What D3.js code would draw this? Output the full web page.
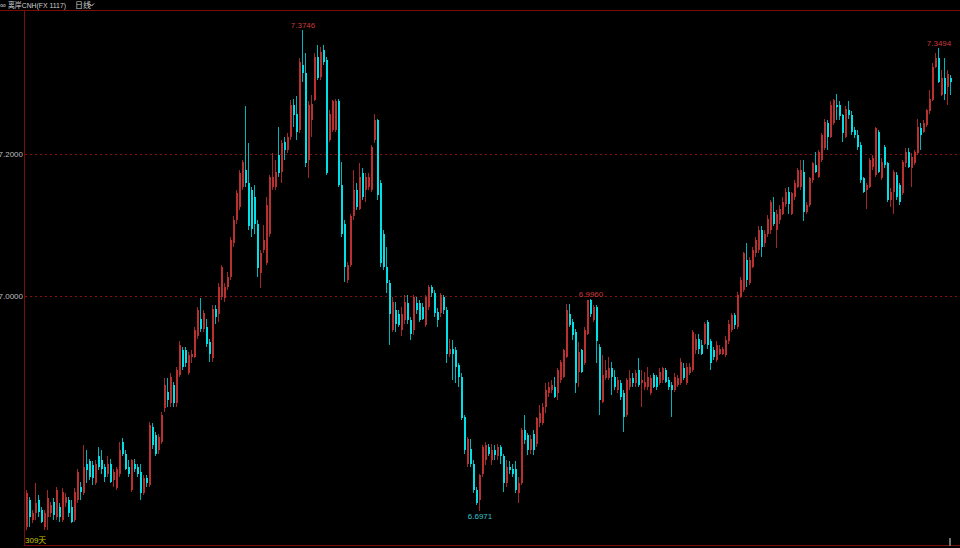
<!DOCTYPE html>
<html><head><meta charset="utf-8">
<script src="https://cdn.jsdelivr.net/npm/d3@7"></script>
<style>html,body{margin:0;padding:0;background:#000;overflow:hidden}</style>
</head><body><svg id="c" width="960" height="548"></svg>
<script>
// Daily candles, 309 days (open / high / low / close)
const openP = [
6.675,6.713,6.685,6.694,6.713,6.699,6.675,6.689,6.694,6.710,
6.689,6.703,6.685,6.708,6.713,6.703,6.685,6.713,6.731,6.722,
6.764,6.767,6.762,6.736,6.774,6.769,6.759,6.750,6.764,6.741,
6.729,6.750,6.795,6.778,6.759,6.727,6.764,6.759,6.752,6.722,
6.743,6.734,6.816,6.804,6.783,6.795,6.842,6.865,6.849,6.875,
6.849,6.889,6.924,6.924,6.891,6.914,6.914,6.943,6.968,6.954,
6.957,6.935,6.912,6.982,6.975,6.999,6.997,7.013,7.027,7.074,
7.107,7.126,7.154,7.177,7.159,7.149,7.140,7.102,7.032,7.065,
7.046,7.088,7.154,7.154,7.199,7.175,7.217,7.206,7.224,7.269,
7.257,7.234,7.325,7.314,7.192,7.248,7.276,7.337,7.309,7.346,
7.332,7.220,7.234,7.234,7.274,7.156,7.102,7.022,7.044,7.112,
7.149,7.123,7.173,7.149,7.154,7.149,7.220,7.248,7.159,7.088,
7.041,7.018,6.952,6.980,6.975,6.952,6.966,6.990,6.966,6.952,
6.990,6.990,6.985,6.959,6.985,7.013,7.004,6.978,6.976,6.999,
6.980,6.919,6.926,6.924,6.903,6.886,6.830,6.764,6.785,6.764,
6.727,6.713,6.750,6.769,6.788,6.769,6.783,6.774,6.788,6.774,
6.736,6.759,6.757,6.757,6.722,6.736,6.811,6.804,6.783,6.806,
6.792,6.821,6.821,6.844,6.863,6.868,6.872,6.863,6.881,6.886,
6.914,6.975,6.964,6.950,6.893,6.924,6.905,6.947,6.994,6.966,
6.985,6.928,6.851,6.884,6.884,6.898,6.886,6.868,6.877,6.863,
6.832,6.872,6.884,6.877,6.896,6.877,6.872,6.872,6.863,6.889,
6.886,6.877,6.881,6.896,6.882,6.875,6.868,6.875,6.877,6.898,
6.877,6.891,6.896,6.924,6.940,6.931,6.933,6.964,6.936,6.924,
6.910,6.919,6.919,6.917,6.936,6.952,6.973,6.957,6.999,7.008,
7.051,7.018,7.041,7.060,7.065,7.093,7.074,7.088,7.093,7.119,
7.093,7.107,7.116,7.130,7.147,7.116,7.140,7.154,7.154,7.175,
7.119,7.128,7.163,7.184,7.168,7.192,7.208,7.243,7.224,7.243,
7.269,7.269,7.255,7.224,7.262,7.255,7.234,7.227,7.213,7.166,
7.149,7.154,7.182,7.170,7.231,7.166,7.210,7.187,7.135,7.147,
7.170,7.156,7.145,7.187,7.203,7.180,7.187,7.201,7.236,7.231,
7.241,7.260,7.276,7.323,7.335,7.283,7.307,7.295,7.307];

const highP = [
6.727,6.717,6.699,6.736,6.720,6.703,6.699,6.727,6.710,6.715,
6.731,6.708,6.729,6.722,6.717,6.713,6.729,6.757,6.738,6.790,
6.783,6.771,6.767,6.769,6.788,6.783,6.764,6.774,6.771,6.757,
6.759,6.795,6.800,6.783,6.769,6.771,6.771,6.764,6.764,6.748,
6.748,6.823,6.821,6.809,6.806,6.837,6.884,6.884,6.891,6.879,
6.900,6.936,6.928,6.928,6.921,6.924,6.957,6.985,6.997,6.980,
6.968,6.940,6.987,6.987,7.018,7.044,7.018,7.034,7.083,7.112,
7.149,7.177,7.191,7.267,7.215,7.154,7.156,7.107,7.065,7.100,
7.140,7.170,7.201,7.191,7.238,7.220,7.224,7.229,7.276,7.278,
7.281,7.335,7.3746,7.342,7.274,7.283,7.342,7.353,7.351,7.353,
7.337,7.262,7.276,7.278,7.278,7.189,7.107,7.048,7.116,7.177,
7.159,7.187,7.180,7.173,7.173,7.213,7.257,7.250,7.163,7.093,
7.069,7.022,6.999,6.992,6.980,6.985,7.001,7.001,6.971,7.001,
6.999,6.994,6.990,7.001,7.015,7.015,7.008,6.983,7.004,7.001,
6.985,6.940,6.938,6.928,6.905,6.891,6.832,6.802,6.799,6.769,
6.731,6.750,6.790,6.795,6.792,6.792,6.790,6.792,6.790,6.778,
6.769,6.767,6.764,6.767,6.745,6.814,6.832,6.807,6.804,6.811,
6.830,6.846,6.849,6.877,6.879,6.882,6.886,6.898,6.910,6.926,
6.989,6.989,6.968,6.954,6.935,6.926,6.957,6.994,6.996,6.987,
6.987,6.933,6.917,6.910,6.914,6.907,6.896,6.886,6.882,6.867,
6.884,6.896,6.891,6.896,6.912,6.896,6.893,6.900,6.889,6.891,
6.889,6.898,6.900,6.898,6.886,6.879,6.891,6.889,6.912,6.905,
6.905,6.905,6.952,6.947,6.947,6.938,6.964,6.966,6.940,6.928,
6.936,6.931,6.928,6.943,6.966,6.976,6.976,7.006,7.027,7.062,
7.074,7.055,7.069,7.083,7.098,7.098,7.093,7.114,7.135,7.140,
7.121,7.128,7.140,7.152,7.154,7.147,7.163,7.180,7.191,7.191,
7.133,7.168,7.189,7.203,7.206,7.229,7.250,7.248,7.274,7.278,
7.285,7.274,7.257,7.267,7.274,7.260,7.238,7.234,7.217,7.168,
7.159,7.194,7.199,7.238,7.234,7.194,7.213,7.189,7.152,7.177,
7.175,7.159,7.191,7.208,7.208,7.201,7.206,7.250,7.243,7.248,
7.264,7.290,7.328,7.342,7.3494,7.318,7.335,7.318,7.311];

const lowP = [
6.670,6.675,6.680,6.685,6.689,6.680,6.670,6.670,6.689,6.685,
6.685,6.682,6.682,6.703,6.689,6.680,6.682,6.708,6.713,6.720,
6.736,6.741,6.734,6.734,6.755,6.750,6.738,6.745,6.736,6.731,
6.727,6.745,6.774,6.755,6.745,6.724,6.752,6.745,6.713,6.720,
6.731,6.731,6.785,6.774,6.778,6.792,6.837,6.844,6.844,6.844,
6.844,6.886,6.896,6.900,6.889,6.905,6.912,6.940,6.950,6.950,
6.928,6.907,6.907,6.961,6.964,6.994,6.992,7.008,7.022,7.069,
7.102,7.121,7.149,7.154,7.093,7.083,7.088,7.027,7.011,7.060,
7.044,7.083,7.149,7.149,7.168,7.159,7.191,7.201,7.220,7.238,
7.220,7.229,7.302,7.182,7.166,7.224,7.274,7.304,7.304,7.325,
7.170,7.217,7.231,7.231,7.154,7.083,7.020,7.018,7.041,7.107,
7.121,7.121,7.135,7.133,7.149,7.147,7.215,7.135,7.041,7.036,
7.004,6.931,6.950,6.950,6.957,6.943,6.961,6.961,6.938,6.945,
6.975,6.964,6.966,6.957,6.980,6.999,6.971,6.957,6.971,6.975,
6.905,6.914,6.882,6.877,6.872,6.825,6.778,6.759,6.759,6.722,
6.706,6.6971,6.745,6.762,6.774,6.762,6.769,6.769,6.764,6.724,
6.731,6.750,6.745,6.722,6.708,6.734,6.792,6.776,6.778,6.776,
6.788,6.816,6.818,6.835,6.858,6.863,6.856,6.853,6.877,6.884,
6.912,6.957,6.938,6.863,6.872,6.891,6.903,6.945,6.971,6.964,
6.905,6.832,6.849,6.881,6.881,6.860,6.867,6.863,6.853,6.809,
6.830,6.867,6.872,6.872,6.872,6.844,6.867,6.867,6.861,6.870,
6.867,6.875,6.877,6.877,6.867,6.830,6.865,6.872,6.875,6.881,
6.875,6.889,6.893,6.919,6.919,6.917,6.931,6.926,6.896,6.910,
6.907,6.917,6.917,6.914,6.933,6.950,6.954,6.954,6.997,7.006,
7.013,7.015,7.039,7.055,7.060,7.055,7.069,7.083,7.088,7.098,
7.067,7.102,7.114,7.126,7.116,7.114,7.135,7.152,7.149,7.105,
7.116,7.126,7.159,7.173,7.166,7.189,7.206,7.206,7.222,7.241,
7.248,7.248,7.217,7.222,7.250,7.227,7.222,7.206,7.159,7.145,
7.123,7.152,7.177,7.168,7.173,7.163,7.180,7.133,7.126,7.116,
7.135,7.128,7.142,7.182,7.180,7.154,7.184,7.199,7.206,7.229,
7.238,7.257,7.274,7.321,7.300,7.281,7.276,7.269,7.283];

const closeP = [
6.722,6.689,6.694,6.708,6.696,6.682,6.694,6.715,6.706,6.692,
6.727,6.689,6.724,6.717,6.694,6.682,6.724,6.752,6.724,6.759,
6.755,6.745,6.743,6.764,6.759,6.757,6.745,6.764,6.738,6.752,
6.757,6.783,6.778,6.757,6.750,6.769,6.757,6.750,6.722,6.743,
6.736,6.818,6.790,6.778,6.802,6.832,6.875,6.853,6.886,6.849,
6.896,6.931,6.900,6.905,6.917,6.919,6.952,6.980,6.954,6.976,
6.933,6.919,6.982,6.971,7.013,7.041,7.013,7.027,7.079,7.107,
7.145,7.173,7.189,7.159,7.098,7.095,7.102,7.039,7.060,7.079,
7.128,7.168,7.168,7.175,7.173,7.215,7.206,7.224,7.269,7.255,
7.231,7.330,7.314,7.187,7.269,7.271,7.337,7.307,7.344,7.330,
7.173,7.257,7.274,7.274,7.156,7.088,7.041,7.044,7.112,7.149,
7.126,7.168,7.140,7.168,7.168,7.210,7.248,7.142,7.046,7.041,
7.018,6.975,6.992,6.961,6.959,6.975,6.992,6.966,6.947,6.999,
6.980,6.966,6.968,6.999,7.013,7.004,6.976,6.966,7.001,6.980,
6.919,6.926,6.919,6.900,6.886,6.828,6.783,6.799,6.764,6.727,
6.708,6.748,6.788,6.790,6.778,6.783,6.776,6.788,6.774,6.736,
6.759,6.755,6.750,6.727,6.736,6.811,6.797,6.783,6.799,6.783,
6.828,6.835,6.844,6.867,6.872,6.875,6.858,6.896,6.907,6.924,
6.980,6.959,6.945,6.877,6.921,6.893,6.952,6.994,6.975,6.985,
6.936,6.853,6.889,6.896,6.898,6.886,6.872,6.882,6.858,6.830,
6.882,6.884,6.877,6.891,6.875,6.881,6.879,6.886,6.884,6.872,
6.872,6.893,6.898,6.879,6.872,6.868,6.886,6.884,6.907,6.884,
6.900,6.900,6.950,6.940,6.926,6.919,6.961,6.931,6.905,6.914,
6.931,6.926,6.926,6.938,6.961,6.973,6.959,7.001,7.023,7.060,
7.022,7.051,7.065,7.079,7.093,7.069,7.088,7.109,7.133,7.102,
7.116,7.123,7.133,7.147,7.130,7.145,7.159,7.177,7.177,7.119,
7.128,7.166,7.187,7.175,7.203,7.227,7.245,7.224,7.269,7.276,
7.266,7.253,7.229,7.264,7.255,7.231,7.227,7.210,7.163,7.147,
7.156,7.191,7.194,7.236,7.175,7.189,7.184,7.135,7.147,7.175,
7.140,7.133,7.189,7.203,7.182,7.196,7.203,7.238,7.227,7.243,
7.262,7.278,7.323,7.335,7.302,7.307,7.285,7.313,7.302];

const yTicks = [7.2, 7.0];
const markIdx = [92, 151, 188, 304];
const markKind = ["high", "low", "high", "high"];
const titleText = "离岸CNH(FX 1117)";
const periodText = "日线";
const daysText = "309天";

const W = 960, H = 548;
const svg = d3.select("#c");
svg.append("rect").attr("width", W).attr("height", H).attr("fill", "#000");

const n = openP.length;
const data = d3.range(n).map(i => ({i, o: openP[i], h: highP[i], l: lowP[i], c: closeP[i]}));

const x = d3.scaleLinear().domain([0, n - 1]).range([26, 26 + 3 * (n - 1)]);
const y = d3.scaleLinear().domain([7.0, 7.2]).range([296, 154]);

const UP = "#b83030", UPW = "#a02828", DN = "#00e0e6", DNW = "#00b4bc";
const AXIS = "#7a0c0c";

// grid
svg.append("g").selectAll("line").data(yTicks).join("line")
  .attr("x1", 25).attr("x2", W)
  .attr("y1", d => Math.round(y(d)) + 0.5).attr("y2", d => Math.round(y(d)) + 0.5)
  .attr("stroke", "#8a1010").attr("stroke-dasharray", "2,3").attr("stroke-width", 1);

svg.append("g").selectAll("text").data(yTicks).join("text")
  .attr("x", 23).attr("y", d => Math.round(y(d)) + 3)
  .attr("text-anchor", "end").attr("fill", "#bdbdbd")
  .attr("font-family", "Liberation Sans, Arial, sans-serif").attr("font-size", 8)
  .text(d => d.toFixed(4));

// frame lines
svg.append("line").attr("x1", 0).attr("x2", W).attr("y1", 10.5).attr("y2", 10.5).attr("stroke", AXIS);
svg.append("line").attr("x1", 24.5).attr("x2", 24.5).attr("y1", 10).attr("y2", 546).attr("stroke", AXIS);
svg.append("line").attr("x1", 24).attr("x2", W).attr("y1", 545.5).attr("y2", 545.5).attr("stroke", AXIS);

// candles
const g = svg.append("g").attr("shape-rendering", "crispEdges");
const up = d => d.c >= d.o;
g.selectAll("rect.w").data(data).join("rect").attr("class", "w")
  .attr("x", d => Math.round(x(d.i)))
  .attr("y", d => y(d.h))
  .attr("width", 1)
  .attr("height", d => Math.max(1, y(d.l) - y(d.h)))
  .attr("fill", d => up(d) ? UPW : DNW);
g.selectAll("rect.b").data(data).join("rect").attr("class", "b")
  .attr("x", d => Math.round(x(d.i)) - 0.5)
  .attr("y", d => y(Math.max(d.o, d.c)))
  .attr("width", 2)
  .attr("height", d => Math.max(1, Math.abs(y(d.o) - y(d.c))))
  .attr("fill", d => up(d) ? UP : DN);

// high / low markers
const marks = markIdx.map((i, k) => ({i, kind: markKind[k]}));
svg.append("g").selectAll("text").data(marks).join("text")
  .attr("x", d => x(d.i) + 1)
  .attr("y", d => d.kind === "high" ? y(highP[d.i]) - 2 : y(lowP[d.i]) + 8)
  .attr("text-anchor", "middle")
  .attr("fill", d => d.kind === "high" ? "#cc3838" : "#38c4d0")
  .attr("font-family", "Liberation Sans, Arial, sans-serif").attr("font-size", 8)
  .text(d => (d.kind === "high" ? highP[d.i] : lowP[d.i]).toFixed(4));

// header
const hf = "Liberation Sans, Noto Sans CJK SC, sans-serif";
svg.append("text").attr("x", 0).attr("y", 8).attr("fill", "#cfcfcf")
  .attr("font-family", hf).attr("font-size", 8).text("∞");
svg.append("text").attr("x", 8).attr("y", 8).attr("fill", "#cfcfcf")
  .attr("font-family", hf).attr("font-size", 8)
  .attr("textLength", 58).attr("lengthAdjust", "spacingAndGlyphs").text(titleText);
svg.append("text").attr("x", 75).attr("y", 8).attr("fill", "#cfcfcf")
  .attr("font-family", hf).attr("font-size", 8).text(periodText);
svg.append("path").attr("d", "M89,3.5 L91.5,6 L94,3.5").attr("fill", "none")
  .attr("stroke", "#cfcfcf").attr("stroke-width", 1);

// footer
svg.append("text").attr("x", 25).attr("y", 543).attr("fill", "#c8c400")
  .attr("font-family", hf).attr("font-size", 8).text(daysText);
svg.append("rect").attr("x", 949).attr("y", 538).attr("width", 2).attr("height", 8).attr("fill", "#707070");
</script>
</body></html>
